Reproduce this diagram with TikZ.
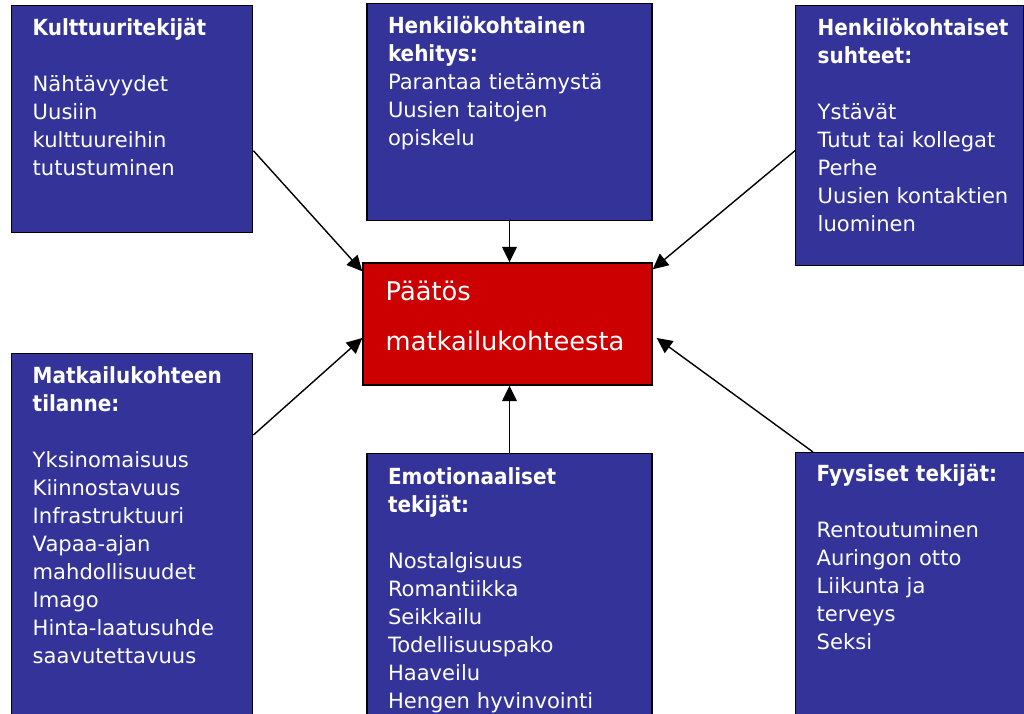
\documentclass[tikz,border=0pt]{standalone}
\usepackage{fontspec}
\setmainfont{DejaVu Sans}
\newfontfamily\headfont{DejaVu Sans Condensed}
\usepackage{xcolor}
\usetikzlibrary{arrows.meta, positioning}
\definecolor{boxblue}{HTML}{333399}
\definecolor{boxred}{HTML}{CC0000}
\newcommand{\factorhead}[1]{{\headfont\bfseries\fontsize{15.8}{19.9}\selectfont #1}}
\tikzset{
->, % every connector points at the decision
>={Triangle[length=11pt,width=10.5pt]}, % filled triangle heads
factor/.style={draw=black, fill=boxblue, inner sep=0pt, anchor=north west}, % blue factor boxes
factortext/.style={text=white, text width=7cm, inner sep=0pt, anchor=base west, font=\fontsize{15}{19.9}\selectfont}, % text inside them
decision/.style={draw=black, fill=boxred, inner sep=0pt}, % the red box in the middle
decisiontext/.style={text=white, text width=7cm, inner sep=0pt, anchor=base west, font=\fontsize{18.3}{34.9}\selectfont},
}

\begin{document}
\begin{tikzpicture}[line width=1pt]
        \useasboundingbox (0,0) rectangle (25.6,-17.85);
        \clip (0,0) rectangle (25.6,-17.85);

        \node[decision, minimum width=7.225cm, minimum height=3.05cm] (paatos) at (12.6875,-8.1) {};
        \node[decisiontext] (paatostext) at (9.625,-7.525) {Päätös\\matkailukohteesta};

        \node[factor, minimum width=6.025cm, minimum height=5.675cm] (kult) at (0.275,-0.125) {};
        \node[factor, minimum width=7.125cm, minimum height=5.425cm, above=1.025cm of paatos, xshift=0.05cm] (kehitys) {};
        \node[factor, minimum width=5.7cm, minimum height=6.5cm] (suhteet) at (19.875,-0.125) {};
        \node[factor, minimum width=6.025cm, minimum height=9.425cm] (tilanne) at (0.275,-8.825) {};
        \node[factor, minimum width=7.125cm, minimum height=6.95cm, below=1.675cm of paatos, xshift=0.05cm] (emot) {};
        \node[factor, minimum width=5.9cm, minimum height=6.95cm] (fyys) at (19.875,-11.3) {};

        \node[factortext] (kulttext) at ([shift={(0.525,-0.775)}]kult.north west)
            {\factorhead{Kulttuuritekijät}\\[\baselineskip]
             Nähtävyydet\\Uusiin\\kulttuureihin\\tutustuminen};
        \node[factortext] (kehitystext) at ([shift={(0.525,-0.775)}]kehitys.north west)
            {\factorhead{Henkilökohtainen\\kehitys:}\\
             Parantaa tietämystä\\Uusien taitojen\\opiskelu};
        \node[factortext] (suhteettext) at ([shift={(0.55,-0.775)}]suhteet.north west)
            {\factorhead{Henkilökohtaiset\\suhteet:}\\[\baselineskip]
             Ystävät\\Tutut tai kollegat\\Perhe\\Uusien kontaktien\\luominen};
        \node[factortext] (tilannetext) at ([shift={(0.525,-0.775)}]tilanne.north west)
            {\factorhead{Matkailukohteen\\tilanne:}\\[\baselineskip]
             Yksinomaisuus\\Kiinnostavuus\\Infrastruktuuri\\Vapaa-ajan\\mahdollisuudet\\Imago\\Hinta-laatusuhde\\saavutettavuus};
        \node[factortext] (emottext) at ([shift={(0.525,-0.8)}]emot.north west)
            {\factorhead{Emotionaaliset\\tekijät:}\\[\baselineskip]
             Nostalgisuus\\Romantiikka\\Seikkailu\\Todellisuuspako\\Haaveilu\\Hengen hyvinvointi};
        \node[factortext] (fyystext) at ([shift={(0.525,-0.75)}]fyys.north west)
            {\factorhead{Fyysiset tekijät:}\\[\baselineskip]
             Rentoutuminen\\Auringon otto\\Liikunta ja\\terveys\\Seksi};

        \draw ([yshift=-0.7875cm]kult.east) -- ([yshift=-0.225cm]paatos.north west);
        \draw (kehitys) -- (kehitys |- paatos.north);
        \draw ([yshift=-0.375cm]suhteet.west) -- ([yshift=-0.175cm]paatos.north east);
        \draw ([yshift=-2.05cm]tilanne.north east) -- ([yshift=-0.35cm]paatos.west);
        \draw (emot) -- (emot |- paatos.south);
        \draw ([xshift=0.45cm]fyys.north west) -- ([xshift=0.1cm,yshift=-0.35cm]paatos.east);
    \end{tikzpicture}
\end{document}
